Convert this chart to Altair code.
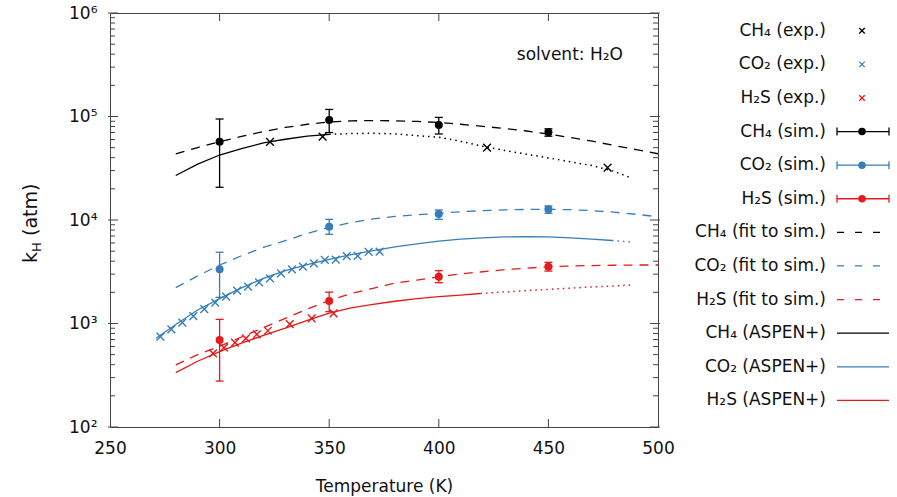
import altair as alt
import pandas as pd

FONT = "DejaVu Sans"
species = ["CH4", "CO2", "H2S"]
colors = ["#000000", "#377eb8", "#e41a1c"]

# ---- experimental data (crosses) ----
ch4_exp_T = [323, 347, 422, 477]
ch4_exp_k = [57000, 63800, 50000, 32000]
co2_exp_T = [273, 278, 283, 288, 293, 298, 303, 308, 313, 318, 323,
             328, 333, 338, 343, 348, 353, 358, 363, 368, 373]
co2_exp_k = [745, 879, 1019, 1180, 1380, 1589, 1816, 2075, 2270, 2500, 2735,
             3055, 3342, 3540, 3819, 4111, 4150, 4487, 4490, 4932, 4950]
h2s_exp_T = [297, 302, 307, 312, 317, 322, 332, 342, 352]
h2s_exp_k = [515, 584, 653, 719, 787, 851, 988, 1122, 1254]

# ---- simulation (dots with error bars) ----
sim_T = [300, 350, 400, 450]
ch4_sim_k = [57000, 92500, 82800, 70300]
ch4_sim_lo = [20700, 70000, 67800, 64500]
ch4_sim_hi = [94600, 117000, 98000, 76000]
co2_sim_k = [3340, 8610, 11400, 12700]
co2_sim_lo = [1790, 7280, 10150, 11620]
co2_sim_hi = [4880, 10150, 12500, 13650]
h2s_sim_k = [692, 1650, 2830, 3540]
h2s_sim_lo = [278, 1300, 2480, 3210]
h2s_sim_hi = [1096, 2010, 3240, 3900]

# ---- fits to simulation (dashed) ----
fit_T = [280, 290, 300, 310, 320, 330, 340, 350, 360, 370, 380, 390,
         400, 410, 420, 430, 440, 450, 460, 470, 480, 490, 500]
ch4_fit_k = [43450, 50120, 57150, 64120, 71610, 78340, 84140, 88510, 90780, 91410, 90780, 89540,
             87500, 84140, 80350, 76560, 72440, 67760, 62660, 57680, 52480, 47860, 43650]
co2_fit_k = [2218, 2884, 3673, 4519, 5433, 6310, 7413, 8511, 9441, 10230, 10840, 11220,
             11610, 12020, 12300, 12530, 12650, 12680, 12590, 12300, 11890, 11350, 10760]
h2s_fit_k = [398, 501, 603, 741, 912, 1122, 1380, 1660, 1950, 2188, 2455, 2630,
             2818, 3020, 3162, 3311, 3428, 3532, 3589, 3631, 3656, 3673, 3673]

# ---- ASPEN+ (solid, continued dotted) ----
ch4_asp_T = [280, 290, 300, 310, 320, 330, 340, 350]
ch4_asp_k = [26900, 34700, 42460, 48980, 55590, 60260, 64570, 67300]
ch4_aspx_T = [350, 360, 370, 380, 390, 400, 410, 420, 430, 440, 450, 460, 470, 480, 488]
ch4_aspx_k = [67300, 68390, 68860, 67920, 65310, 63100, 57540, 51520, 46990, 43250, 39810,
              36560, 33500, 29510, 25400]
co2_asp_T = [271, 280, 290, 300, 310, 320, 330, 340, 350, 360, 370, 380, 390, 400, 410,
             420, 430, 440, 450, 460, 470, 479]
co2_asp_k = [720, 977, 1349, 1738, 2213, 2723, 3236, 3715, 4169, 4624, 5070, 5495, 5888,
             6237, 6531, 6730, 6855, 6918, 6855, 6730, 6546, 6339]
co2_aspx_T = [479, 489]
co2_aspx_k = [6339, 6095]
h2s_asp_T = [280, 290, 300, 310, 320, 330, 340, 350, 360, 370, 380, 390, 400, 410, 419]
h2s_asp_k = [335, 432, 535, 646, 767, 902, 1072, 1259, 1413, 1531, 1641, 1738, 1816, 1884, 1950]
h2s_aspx_T = [419, 430, 440, 450, 460, 470, 480, 488]
h2s_aspx_k = [1950, 2018, 2080, 2138, 2198, 2254, 2307, 2355]

# ---- annotation ----
note_text = ["solvent: H\u2082O"]
note_T = [484]
note_k = [393000]

# ---- axes ----
x_ticks = [250, 300, 350, 400, 450, 500]
y_major = [100, 1000, 10000, 100000, 1000000]
y_minor = [m * d for d in [100, 1000, 10000, 100000] for m in range(2, 10)]

legend_labels = ["CH\u2084 (exp.)", "CO\u2082 (exp.)", "H\u2082S (exp.)",
                 "CH\u2084 (sim.)", "CO\u2082 (sim.)", "H\u2082S (sim.)",
                 "CH\u2084 (fit to sim.)", "CO\u2082 (fit to sim.)", "H\u2082S (fit to sim.)",
                 "CH\u2084 (ASPEN+)", "CO\u2082 (ASPEN+)", "H\u2082S (ASPEN+)"]
legend_kind = ["exp"] * 3 + ["sim"] * 3 + ["fit"] * 3 + ["asp"] * 3
legend_sp = species * 4


def frame(Ts, ks, sp):
    return pd.DataFrame({"T": Ts, "k": ks, "sp": sp})


exp_df = pd.concat([frame(ch4_exp_T, ch4_exp_k, "CH4"), frame(co2_exp_T, co2_exp_k, "CO2"),
                    frame(h2s_exp_T, h2s_exp_k, "H2S")])
fit_df = pd.concat([frame(fit_T, ch4_fit_k, "CH4"), frame(fit_T, co2_fit_k, "CO2"),
                    frame(fit_T, h2s_fit_k, "H2S")])
asp_df = pd.concat([frame(ch4_asp_T, ch4_asp_k, "CH4"), frame(co2_asp_T, co2_asp_k, "CO2"),
                    frame(h2s_asp_T, h2s_asp_k, "H2S")])
aspx_df = pd.concat([frame(ch4_aspx_T, ch4_aspx_k, "CH4"), frame(co2_aspx_T, co2_aspx_k, "CO2"),
                     frame(h2s_aspx_T, h2s_aspx_k, "H2S")])
sim_df = pd.concat([
    pd.DataFrame({"T": sim_T, "k": ch4_sim_k, "lo": ch4_sim_lo, "hi": ch4_sim_hi, "sp": "CH4"}),
    pd.DataFrame({"T": sim_T, "k": co2_sim_k, "lo": co2_sim_lo, "hi": co2_sim_hi, "sp": "CO2"}),
    pd.DataFrame({"T": sim_T, "k": h2s_sim_k, "lo": h2s_sim_lo, "hi": h2s_sim_hi, "sp": "H2S"}),
])
note_df = pd.DataFrame({"T": note_T, "k": note_k, "text": note_text})
leg_df = pd.DataFrame({"label": legend_labels, "kind": legend_kind, "sp": legend_sp})

sup = {100: "10\u00b2", 1000: "10\u00b3", 10000: "10\u2074", 100000: "10\u2075", 1000000: "10\u2076"}
label_expr = " : ".join(f"datum.value == {v} ? '{s}'" for v, s in sup.items()) + " : ''"

xscale = alt.Scale(domain=[250, 500], nice=False, zero=False)
yscale = alt.Scale(type="log", domain=[100, 1000000], nice=False)
xaxis = alt.Axis(values=x_ticks, ticks=False, domain=False, grid=False, labelPadding=13,
                 labelFlush=False, title="Temperature (K)", titlePadding=22)
yaxis = alt.Axis(values=y_major, ticks=False, domain=False, grid=False, labelPadding=13,
                 labelFlush=False, labelExpr=label_expr, title=None)

X = alt.X("T:Q", scale=xscale, axis=xaxis)
Y = alt.Y("k:Q", scale=yscale, axis=yaxis)
C = alt.Color("sp:N", scale=alt.Scale(domain=species, range=colors), legend=None)

cross = "M-1,-1L1,1M-1,1L1,-1"
hcap = "M-1,0L1,0"
vcap = "M0,-1L0,1"

fit_layer = alt.Chart(fit_df).mark_line(strokeWidth=1.3, strokeDash=[9, 7]).encode(
    x=X, y=Y, color=C, detail="sp:N")
asp_layer = alt.Chart(asp_df).mark_line(strokeWidth=1.3).encode(x=X, y=Y, color=C, detail="sp:N")
aspx_layer = alt.Chart(aspx_df).mark_line(strokeWidth=1.5, strokeDash=[1.5, 4]).encode(
    x=X, y=Y, color=C, detail="sp:N")
err_layer = alt.Chart(sim_df).mark_rule(strokeWidth=1.3).encode(
    x=X, y=alt.Y("lo:Q", scale=yscale, axis=yaxis), y2="hi:Q", color=C)
cap_lo = alt.Chart(sim_df).mark_point(shape=hcap, size=64, strokeWidth=1.3, filled=False, opacity=1).encode(
    x=X, y=alt.Y("lo:Q", scale=yscale, axis=yaxis), color=C)
cap_hi = alt.Chart(sim_df).mark_point(shape=hcap, size=64, strokeWidth=1.3, filled=False, opacity=1).encode(
    x=X, y=alt.Y("hi:Q", scale=yscale, axis=yaxis), color=C)
dot_layer = alt.Chart(sim_df).mark_circle(size=64, opacity=1).encode(x=X, y=Y, color=C)
exp_layer = alt.Chart(exp_df).mark_point(shape=cross, size=60, strokeWidth=1.4, filled=False, opacity=1).encode(
    x=X, y=Y, color=C)
note_layer = alt.Chart(note_df).mark_text(align="right", baseline="middle", fontSize=17, font=FONT,
                                          color="#111").encode(x=X, y=Y, text="text:N")

# inward ticks of the frame
xt_df = pd.DataFrame({"T": x_ticks[1:-1]})
ymaj_df = pd.DataFrame({"k": y_major})
ymin_df = pd.DataFrame({"k": y_minor})
tick_color = "#444"
xt_bot = alt.Chart(xt_df).mark_rule(color=tick_color).encode(x=X, y=alt.value(414), y2=alt.value(406))
xt_top = alt.Chart(xt_df).mark_rule(color=tick_color).encode(x=X, y=alt.value(0), y2=alt.value(8))
yt_l = alt.Chart(ymaj_df).mark_rule(color=tick_color).encode(y=Y, x=alt.value(-2), x2=alt.value(8))
yt_r = alt.Chart(ymaj_df).mark_rule(color=tick_color).encode(y=Y, x=alt.value(550), x2=alt.value(540))
ym_l = alt.Chart(ymin_df).mark_rule(color=tick_color).encode(y=Y, x=alt.value(0), x2=alt.value(5))
ym_r = alt.Chart(ymin_df).mark_rule(color=tick_color).encode(y=Y, x=alt.value(548), x2=alt.value(543))

# y-axis title k_H (atm)
one = pd.DataFrame({"a": [0]})
yt1 = alt.Chart(one).mark_text(text="k", angle=270, align="left", baseline="alphabetic", fontSize=19,
                               font=FONT, color="#111").encode(x=alt.value(-73), y=alt.value(250))
yt2 = alt.Chart(one).mark_text(text="H", angle=270, align="left", baseline="alphabetic", fontSize=13,
                               font=FONT, color="#111").encode(x=alt.value(-69), y=alt.value(239))
yt3 = alt.Chart(one).mark_text(text="(atm)", angle=270, align="left", baseline="alphabetic", fontSize=19,
                               font=FONT, color="#111").encode(x=alt.value(-73), y=alt.value(223))

data_group = alt.layer(fit_layer, asp_layer, aspx_layer, err_layer, cap_lo, cap_hi, dot_layer,
                       exp_layer, note_layer, xt_bot, xt_top, yt_l, yt_r, ym_l, ym_r, yt1, yt2, yt3)

# ---- legend (own point scale over legend entries) ----
LY = alt.Y("label:N", scale=alt.Scale(type="point", domain=legend_labels, padding=0.66, align=0.4),
           axis=None)
leg = alt.Chart(leg_df)
leg_text = leg.mark_text(align="right", baseline="middle", fontSize=17, font=FONT, color="#111").encode(
    y=LY, x=alt.value(716), text="label:N")
leg_exp = leg.transform_filter(alt.datum.kind == "exp").mark_point(
    shape=cross, size=30, strokeWidth=1.3, filled=False, opacity=1).encode(y=LY, x=alt.value(752), color=C)
leg_sim_line = leg.transform_filter(alt.datum.kind == "sim").mark_rule(strokeWidth=1.3).encode(
    y=LY, x=alt.value(727), x2=alt.value(779), color=C)
leg_sim_c1 = leg.transform_filter(alt.datum.kind == "sim").mark_point(
    shape=vcap, size=64, strokeWidth=1.3, filled=False, opacity=1).encode(y=LY, x=alt.value(727), color=C)
leg_sim_c2 = leg.transform_filter(alt.datum.kind == "sim").mark_point(
    shape=vcap, size=64, strokeWidth=1.3, filled=False, opacity=1).encode(y=LY, x=alt.value(779), color=C)
leg_sim_dot = leg.transform_filter(alt.datum.kind == "sim").mark_circle(size=56, opacity=1).encode(
    y=LY, x=alt.value(752), color=C)
leg_fit = leg.transform_filter(alt.datum.kind == "fit").mark_rule(strokeWidth=1.3, strokeDash=[7, 11]).encode(
    y=LY, x=alt.value(727), x2=alt.value(770), color=C)
leg_asp = leg.transform_filter(alt.datum.kind == "asp").mark_rule(strokeWidth=1.3).encode(
    y=LY, x=alt.value(727), x2=alt.value(779), color=C)

legend_group = alt.layer(leg_text, leg_exp, leg_sim_line, leg_sim_c1, leg_sim_c2, leg_sim_dot,
                         leg_fit, leg_asp)

chart = alt.layer(data_group, legend_group).resolve_scale(y="independent").properties(
    width=548, height=414,
    autosize=alt.AutoSizeParams(type="none"),
    padding={"left": 110, "top": 13, "right": 239, "bottom": 70},
).configure_view(stroke="#444", strokeWidth=1).configure_axis(
    labelFont=FONT, labelFontSize=17, labelColor="#111",
    titleFont=FONT, titleFontSize=17, titleFontWeight="normal", titleColor="#111",
)

chart.save("out.html", embed_options={"renderer": "svg", "actions": False})
